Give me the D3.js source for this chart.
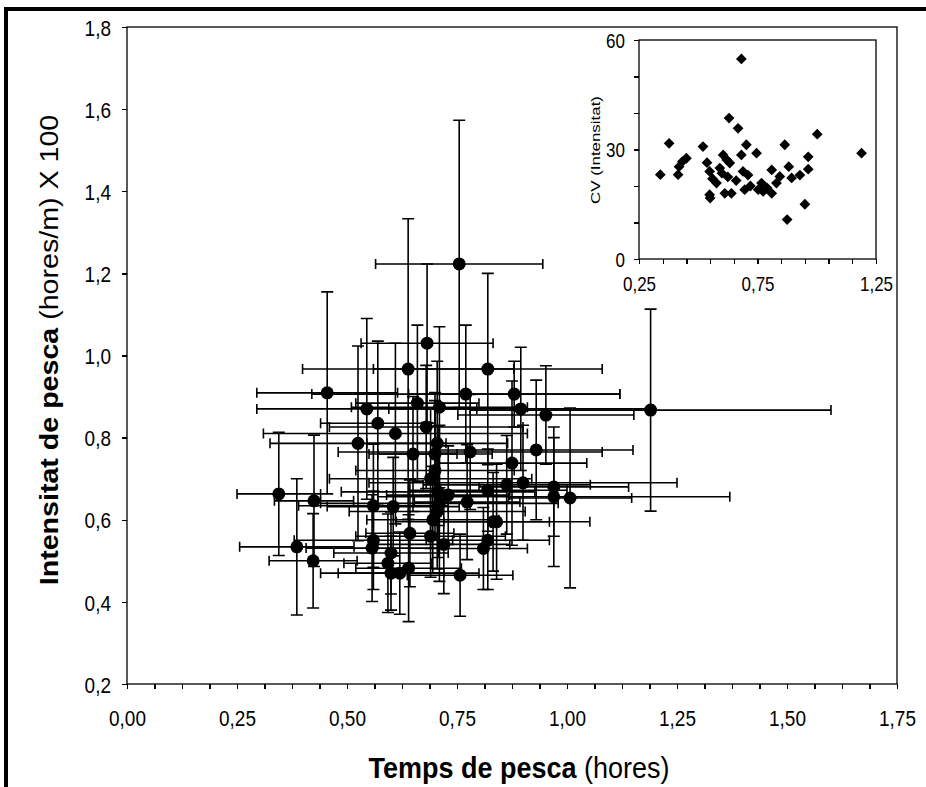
<!DOCTYPE html>
<head>
    <meta charset="utf-8">
</head>
<style>
    body { margin: 0; background: #fff; }
    svg { font-family: "Liberation Sans", Arial, sans-serif; }
    .axis path, .axis line { fill: none; stroke: #000; stroke-width: 1.3px; shape-rendering: crispEdges; }
    .main .tick text { font-size: 19px; }
    .inset .tick text { font-size: 17px; }
    .err { stroke: #000; stroke-width: 1.6px; fill: none; }
</style>
<body>
<script src="https://d3js.org/d3.v7.min.js"></script>
<script>

// mean fishing time (hours) and its sd, mean intensity (hours/m x100) and its sd
var tempsMitja = [0.755, 1.19, 0.455, 0.639, 0.682, 0.82, 0.77, 0.88, 0.66, 0.545,
                  0.71, 0.895, 0.57, 0.61, 0.68, 0.525, 0.705, 0.78, 0.93, 0.952,
                  0.875, 0.345, 0.386, 0.425, 0.423, 0.707, 0.82, 0.863, 0.9, 0.56,
                  0.605, 0.773, 0.84, 0.82, 0.56, 0.643, 0.6, 0.557, 0.593, 0.64,
                  0.62, 0.757, 0.97, 0.97, 1.007, 0.832, 0.7, 0.7, 0.705, 0.695,
                  0.71, 0.69, 0.73, 0.69, 0.65, 0.72, 0.81, 0.6]
var tempsSD    = [0.19, 0.41, 0.16, 0.24, 0.15, 0.26, 0.35, 0.24, 0.14, 0.25,
                  0.2, 0.3, 0.13, 0.3, 0.22, 0.2, 0.16, 0.3, 0.22, 0.2,
                  0.17, 0.095, 0.13, 0.09, 0.1, 0.22, 0.18, 0.19, 0.35, 0.17,
                  0.15, 0.12, 0.12, 0.14, 0.18, 0.1, 0.13, 0.15, 0.1, 0.12,
                  0.18, 0.12, 0.17, 0.4, 0.14, 0.22, 0.18, 0.13, 0.2, 0.15,
                  0.27, 0.23, 0.14, 0.17, 0.1, 0.15, 0.1, 0.12]
var intensMitja = [1.223, 0.867, 0.909, 0.967, 1.03, 0.967, 0.906, 0.906, 0.884, 0.87,
                   0.874, 0.87, 0.835, 0.81, 0.826, 0.786, 0.786, 0.765, 0.77, 0.855,
                   0.738, 0.663, 0.534, 0.646, 0.5, 0.668, 0.672, 0.685, 0.69, 0.634,
                   0.632, 0.643, 0.595, 0.55, 0.55, 0.567, 0.519, 0.531, 0.494, 0.482,
                   0.47, 0.465, 0.68, 0.656, 0.653, 0.595, 0.72, 0.76, 0.62, 0.6,
                   0.64, 0.7, 0.66, 0.56, 0.76, 0.54, 0.53, 0.47]
var intensSD   = [0.35, 0.246, 0.246, 0.366, 0.193, 0.233, 0.168, 0.08, 0.19, 0.22,
                  0.196, 0.15, 0.2, 0.22, 0.15, 0.237, 0.2, 0.14, 0.17, 0.12,
                  0.2, 0.15, 0.166, 0.16, 0.115, 0.16, 0.1, 0.12, 0.14, 0.15,
                  0.12, 0.14, 0.14, 0.12, 0.12, 0.13, 0.1, 0.13, 0.12, 0.13,
                  0.1, 0.1, 0.12, 0.17, 0.219, 0.12, 0.17, 0.15, 0.14, 0.13,
                  0.19, 0.17, 0.12, 0.1, 0.14, 0.12, 0.1, 0.09]

// inset: coefficient of variation of intensity vs fishing time
var cvTemps = [0.34, 0.377, 0.415, 0.419, 0.433, 0.45, 0.52, 0.537, 0.548, 0.548,
               0.55, 0.577, 0.591, 0.605, 0.612, 0.62, 0.63, 0.633, 0.64, 0.625,
               0.668, 0.682, 0.682, 0.689, 0.696, 0.703, 0.71, 0.746, 0.753, 0.767,
               0.774, 0.81, 0.81, 0.83, 0.844, 0.865, 0.875, 0.882, 0.894, 0.929,
               0.95, 0.964, 0.964, 1.002, 1.189, 0.56, 0.66, 0.72, 0.79, 0.6]
var cvValor = [23.1, 31.7, 23.1, 25.3, 26.7, 27.6, 30.8, 26.4, 24.0, 17.6,
               16.7, 20.8, 24.9, 28.5, 18.0, 27.2, 38.6, 26.3, 18.0, 22.5,
               35.8, 54.8, 28.5, 24.0, 19.0, 31.3, 23.0, 29.0, 19.0, 20.8,
               18.5, 24.4, 18.0, 20.8, 22.6, 31.3, 10.8, 25.3, 22.2, 23.0,
               15.0, 28.0, 24.6, 34.2, 29.0, 22.0, 21.5, 20.0, 19.5, 23.5]

var xTicks = d3.range(0, 1.7501, 0.0625)
var yTicks = d3.range(0.2, 1.8001, 0.2)
var insetXTicks = d3.range(0.25, 1.2501, 0.1)
var insetYTicks = d3.range(0, 60.01, 10)

var comma = function(n, dec) { return d3.format("." + dec + "f")(n).replace(".", ",") }

var width = 926, height = 787
var stretch = 1.2   // the original figure is a bit taller than wide

var svg = d3.select("body").append("svg")
    .attr("width", width)
    .attr("height", height)

svg.append("rect").attr("width", width).attr("height", height).attr("fill", "#fff")

// thick frame on top and left
svg.append("path")
    .attr("d", "M6," + height + "V9H" + width)
    .attr("fill", "none")
    .attr("stroke", "#000")
    .attr("stroke-width", 4)

// put tick labels at a given offset, stretched vertically
function bottomLabels(g, off) {
    g.selectAll(".tick text")
        .attr("y", 0).attr("dy", 0)
        .attr("transform", "translate(0," + off + ") scale(1," + stretch + ")")
}
function leftLabels(g, off) {
    g.selectAll(".tick text")
        .attr("x", 0).attr("dy", "0.36em")
        .attr("transform", "translate(" + (-off) + ",0) scale(1," + stretch + ")")
}

// ---------- main plot ----------
var x = d3.scaleLinear().domain([0, 1.75]).range([127, 897])
var y = d3.scaleLinear().domain([0.2, 1.8]).range([684, 27])

var main = svg.append("g").attr("class", "main")

main.append("rect")
    .attr("x", x(0)).attr("y", y(1.8))
    .attr("width", x(1.75) - x(0)).attr("height", y(0.2) - y(1.8))
    .attr("fill", "none").attr("stroke", "#000").attr("stroke-width", 1.3)

main.append("g")
    .attr("class", "axis")
    .attr("transform", "translate(0," + y(0.2) + ")")
    .call(d3.axisBottom(x).tickValues(xTicks).tickSize(5)
        .tickFormat(function(d) { return Math.abs(d / 0.25 - Math.round(d / 0.25)) < 1e-6 ? comma(d, 2) : "" }))
    .call(bottomLabels, 42)

main.append("g")
    .attr("class", "axis")
    .attr("transform", "translate(" + x(0) + ",0)")
    .call(d3.axisLeft(y).tickValues(yTicks).tickSize(5)
        .tickFormat(function(d) { return comma(d, 1) }))
    .call(leftLabels, 16)

main.selectAll(".domain").remove()

var punts = tempsMitja.map(function(t, i) {
    return { t: t, tsd: tempsSD[i], v: intensMitja[i], vsd: intensSD[i] }
})

var err = main.append("g").attr("class", "err")
punts.forEach(function(d) {
    var cx = x(d.t), cy = y(d.v)
    var x0 = x(d.t - d.tsd), x1 = x(d.t + d.tsd)
    var y0 = y(d.v - d.vsd), y1 = y(d.v + d.vsd)
    err.append("path").attr("d",
        "M" + x0 + "," + cy + "H" + x1 +
        "M" + x0 + "," + (cy - 5) + "V" + (cy + 5) +
        "M" + x1 + "," + (cy - 5) + "V" + (cy + 5) +
        "M" + cx + "," + y0 + "V" + y1 +
        "M" + (cx - 6) + "," + y0 + "H" + (cx + 6) +
        "M" + (cx - 6) + "," + y1 + "H" + (cx + 6))
})

main.selectAll(".punt")
    .data(punts)
  .enter().append("circle")
    .attr("class", "punt")
    .attr("cx", function(d) { return x(d.t) })
    .attr("cy", function(d) { return y(d.v) })
    .attr("r", 6.5)
    .attr("fill", "#000")

// axis titles
var xt = svg.append("text")
    .attr("transform", "translate(519,778) scale(1,1.1)")
    .attr("text-anchor", "middle")
    .style("font-size", "27px")
xt.append("tspan").style("font-weight", "bold").text("Temps de pesca")
xt.append("tspan").text(" (hores)")

var yt = svg.append("text")
    .attr("transform", "translate(58,350) rotate(-90) scale(1.1,1)")
    .attr("text-anchor", "middle")
    .style("font-size", "26px")
yt.append("tspan").style("font-weight", "bold").text("Intensitat de pesca")
yt.append("tspan").text("  (hores/m) X 100")

// ---------- inset ----------
var ix = d3.scaleLinear().domain([0.25, 1.25]).range([639, 876])
var iy = d3.scaleLinear().domain([0, 60]).range([259, 40])

var inset = svg.append("g").attr("class", "inset")

inset.append("rect")
    .attr("x", ix(0.25)).attr("y", iy(60))
    .attr("width", ix(1.25) - ix(0.25)).attr("height", iy(0) - iy(60))
    .attr("fill", "#fff").attr("stroke", "#000").attr("stroke-width", 1.3)

inset.append("g")
    .attr("class", "axis")
    .attr("transform", "translate(0," + iy(0) + ")")
    .call(d3.axisBottom(ix).tickValues(insetXTicks).tickSize(5)
        .tickFormat(function(d, i) { return i % 5 === 0 ? comma(d, 2) : "" }))
    .call(bottomLabels, 32)

inset.append("g")
    .attr("class", "axis")
    .attr("transform", "translate(" + ix(0.25) + ",0)")
    .call(d3.axisLeft(iy).tickValues(insetYTicks).tickSize(5)
        .tickFormat(function(d, i) { return i % 3 === 0 ? d : "" }))
    .call(leftLabels, 14)

inset.selectAll(".domain").remove()

inset.selectAll(".cv")
    .data(cvTemps)
  .enter().append("path")
    .attr("class", "cv")
    .attr("d", d3.symbol().type(d3.symbolSquare).size(58))
    .attr("transform", function(d, i) { return "translate(" + ix(d) + "," + iy(cvValor[i]) + ") rotate(45)" })
    .attr("fill", "#000")

svg.append("text")
    .attr("transform", "translate(600,150) rotate(-90) scale(1.3,1)")
    .attr("text-anchor", "middle")
    .style("font-size", "13px")
    .text("CV (Intensitat)")

</script>
</body>
